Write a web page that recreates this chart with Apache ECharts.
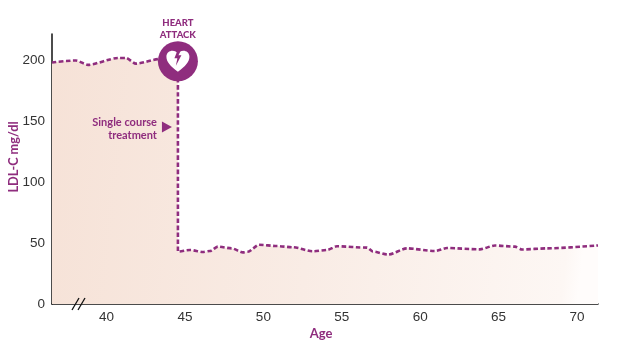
<!DOCTYPE html>
<html>
<head>
<meta charset="utf-8">
<style>
html,body{margin:0;padding:0;background:#fff;}
#chart{width:640px;height:351px;}
</style>
<script src="https://cdn.jsdelivr.net/npm/echarts@6/dist/echarts.min.js"></script>
</head>
<body>
<div id="chart"></div>
<script>
//读图得到的数据
var ages = [36.52,38.05,38.81,40.73,41.24,41.87,43.41,44.55,44.55,45.32,46.15,46.59,47.10,47.98,48.70,49.02,49.72,50.85,51.89,53.16,54.06,54.69,56.61,56.99,57.95,59.16,60.94,61.71,63.81,64.77,66.05,66.49,68.09,71.34];
var ldl = [198,199.6,196,201.6,201.6,197,200.8,199,43,44.3,42.6,43.4,47,45.6,42.3,42.8,48.6,47.5,46.5,43.2,44.3,47.3,46.2,43,40.5,45.6,43.4,45.9,44.8,48,47,44.7,45.6,48];
var ageTicks = [40,45,50,55,60,65,70];
var ldlTicks = [0,50,100,150,200];
var heartAttack = [44.55,199];
var treatmentArrow = [43.85,145];

var PURPLE = '#8f2d7e';
var NARROW = 'Lato,"Liberation Sans",sans-serif';
var heartPath = 'path://M50,90 C20,68 4,50 4,30 C4,14 16,6 28,6 C38,6 45,11 50,18 C55,11 62,6 72,6 C84,6 96,14 96,30 C96,50 80,68 50,90 Z';
var boltPath = 'path://M46,0 L64,0 L52,30 L68,30 L38,100 L46,50 L30,50 Z';

var lineData = [];
for (var i = 0; i < ages.length; i++) {
	lineData.push([ages[i], ldl[i]]);
}

var chart = echarts.init(document.getElementById('chart'));
chart.setOption({
	animation: false,
	backgroundColor: '#fff',
	grid: {left: 52, right: 42, top: 34, bottom: 47, outerBoundsMode: 'none'},
	xAxis: {
		type: 'value',
		min: 36.52,
		max: 71.34,
		name: 'Age',
		nameLocation: 'middle',
		nameGap: 23,
		nameMoveOverlap: false,
		nameTextStyle: {color: PURPLE, fontFamily: NARROW, fontWeight: 'bold', fontSize: 13, padding: [0, 8, 0, 0]},
		splitLine: {show: false},
		axisLine: {lineStyle: {color: '#111', width: 1.5}},
		axisTick: {show: false},
		axisLabel: {customValues: ageTicks, color: '#333', fontFamily: '"Liberation Sans"', fontSize: 13.5, margin: 6}
	},
	yAxis: {
		type: 'value',
		min: 0,
		max: 221.3,
		name: 'LDL-C mg/dl',
		nameLocation: 'middle',
		nameGap: 32,
		nameRotate: 90,
		nameMoveOverlap: false,
		nameTextStyle: {color: PURPLE, fontFamily: NARROW, fontWeight: 'bold', fontSize: 12.7, padding: [0, 0, 0, 24]},
		splitLine: {show: false},
		axisLine: {show: true, lineStyle: {color: '#111', width: 1.5}},
		axisTick: {show: false},
		axisLabel: {customValues: ldlTicks, color: '#333', fontFamily: '"Liberation Sans"', fontSize: 13.5, margin: 7}
	},
	graphic: [
		{type: 'line', shape: {x1: 72, y1: 310, x2: 79, y2: 298}, style: {stroke: '#111', lineWidth: 1.3}, z: 10},
		{type: 'line', shape: {x1: 78, y1: 310, x2: 85, y2: 298}, style: {stroke: '#111', lineWidth: 1.3}, z: 10}
	],
	series: [
		{
			type: 'line',
			data: lineData,
			showSymbol: false,
			smooth: 0.25,
			smoothMonotone: 'x',
			lineStyle: {color: PURPLE, width: 2.6, type: [4.5, 2.5]},
			areaStyle: {
				opacity: 1,
				color: new echarts.graphic.LinearGradient(0, 0, 1, 0.25, [
					{offset: 0, color: '#f6e2d7'},
					{offset: 0.5, color: '#f9ece5'},
					{offset: 0.97, color: '#fdf7f4'},
					{offset: 1, color: '#fffcfb'}
				])
			},
			z: 2
		},
		{
			type: 'scatter',
			data: [heartAttack],
			symbol: 'circle',
			symbolSize: 40,
			itemStyle: {color: PURPLE, opacity: 1},
			label: {
				show: true,
				position: 'top',
				distance: 0,
				formatter: 'HEART\nATTACK',
				color: PURPLE,
				fontFamily: NARROW,
				fontWeight: 900,
				fontSize: 9.5,
				lineHeight: 12.5,
				align: 'center'
			},
			z: 3
		},
		{
			type: 'scatter',
			data: [heartAttack],
			symbol: heartPath,
			symbolSize: [23, 21],
			itemStyle: {color: '#fff', opacity: 1},
			z: 4
		},
		{
			type: 'scatter',
			data: [heartAttack],
			symbol: boltPath,
			symbolSize: [7, 15],
			symbolOffset: [0, -3],
			itemStyle: {color: PURPLE, opacity: 1},
			z: 5
		},
		{
			type: 'scatter',
			data: [treatmentArrow],
			symbol: 'triangle',
			symbolSize: [11, 10],
			symbolRotate: -90,
			itemStyle: {color: PURPLE, opacity: 1},
			label: {
				show: true,
				position: 'left',
				distance: 5,
				offset: [0, 2],
				formatter: 'Single course\ntreatment',
				color: PURPLE,
				fontFamily: NARROW,
				fontWeight: 'bold',
				fontSize: 11,
				lineHeight: 13,
				align: 'right'
			},
			z: 5
		}
	]
});
</script>
</body>
</html>
